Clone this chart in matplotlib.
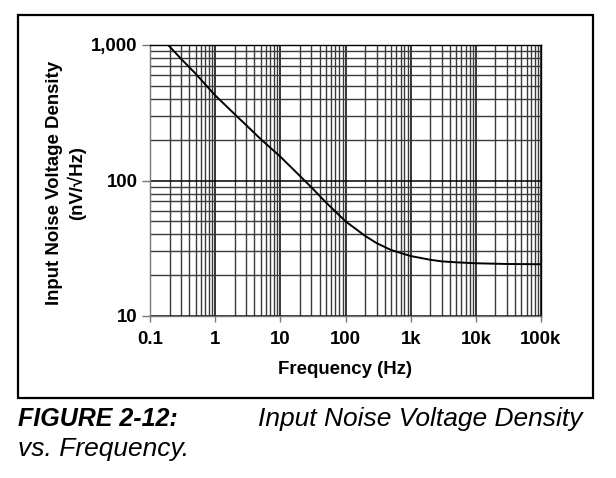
import matplotlib
matplotlib.use("Agg")
import matplotlib.pyplot as plt
from matplotlib.patches import Rectangle
from matplotlib.ticker import FixedLocator, NullFormatter

plt.rcParams['font.family'] = ['Liberation Sans', 'DejaVu Sans']

# (Hz, nV/rtHz)
freq = [0.19, 0.3, 0.5, 1, 2, 3, 5, 10, 20, 30, 50, 100, 200, 300, 500,
        1000, 2000, 3000, 5000, 10000, 30000, 100000]
noise = [1000, 790, 615, 425, 308, 256, 202, 150, 108, 89, 69, 50, 39, 34.5,
         30.7, 27.7, 26.0, 25.3, 24.9, 24.5, 24.2, 24.1]

x_ticks = [0.1, 1, 10, 100, 1000, 10000, 100000]
x_labels = ["0.1", "1", "10", "100", "1k", "10k", "100k"]
y_ticks = [10, 100, 1000]
y_labels = ["10", "100", "1,000"]

W, H = 616, 478
fig = plt.figure(figsize=(W / 100, H / 100), dpi=100)

# frame around the whole figure
fig.patches.append(Rectangle((18 / W, 1 - 398 / H), 575 / W, 383 / H,
                             transform=fig.transFigure, fill=False,
                             edgecolor="black", lw=1.6))

ax = fig.add_axes([150 / W, 1 - 316 / H, 391 / W, 271 / H])
ax.set_xscale("log")
ax.set_yscale("log")
ax.set_xlim(0.1, 100000)
ax.set_ylim(10, 1000)

# minor grid: 2..9 in each decade
minor_x = [m * 10.0 ** d for d in range(-1, 5) for m in range(2, 10)]
minor_y = [m * 10.0 ** d for d in range(1, 3) for m in range(2, 10)]
ax.xaxis.set_major_locator(FixedLocator(x_ticks))
ax.yaxis.set_major_locator(FixedLocator(y_ticks))
ax.xaxis.set_minor_locator(FixedLocator(minor_x))
ax.yaxis.set_minor_locator(FixedLocator(minor_y))
ax.xaxis.set_minor_formatter(NullFormatter())
ax.yaxis.set_minor_formatter(NullFormatter())
ax.set_xticklabels(x_labels, fontsize=13.4, fontweight="bold")
ax.set_yticklabels(y_labels, fontsize=13.4, fontweight="bold")

ax.grid(True, which="major", color="black", lw=1.1)
ax.grid(True, which="minor", color="#3a3a3a", lw=1.0)
ax.set_axisbelow(True)

ax.tick_params(which="minor", length=0)
ax.tick_params(axis="x", which="major", direction="out", length=4, width=1,
               color="#777777", pad=7)
ax.tick_params(axis="y", which="major", direction="out", length=6, width=1,
               color="#777777", pad=3)

for s in ax.spines.values():
    s.set_color("black")
    s.set_linewidth(1.0)
ax.spines["left"].set_color("#777777")
ax.spines["bottom"].set_color("#777777")

ax.plot(freq, noise, color="black", lw=1.4, zorder=5)

ax.set_xlabel("Frequency (Hz)", fontsize=13.4, fontweight="bold", labelpad=9)
fig.text(66 / W, 1 - 183 / H, "Input Noise Voltage Density\n(nV/\u221aHz)",
         rotation=90, ha="center", va="center", multialignment="center",
         fontsize=13.4, fontweight="bold", linespacing=1.2)

# caption under the frame
fig.text(18 / W, 1 - 419 / H, "FIGURE 2-12:", fontsize=18,
         fontweight="bold", fontstyle="italic", va="center")
fig.text(258 / W, 1 - 419 / H, "Input Noise Voltage Density", fontsize=19,
         fontstyle="italic", va="center")
fig.text(18 / W, 1 - 449 / H, "vs. Frequency.", fontsize=19,
         fontstyle="italic", va="center")

fig.savefig("out.png", dpi=100)
